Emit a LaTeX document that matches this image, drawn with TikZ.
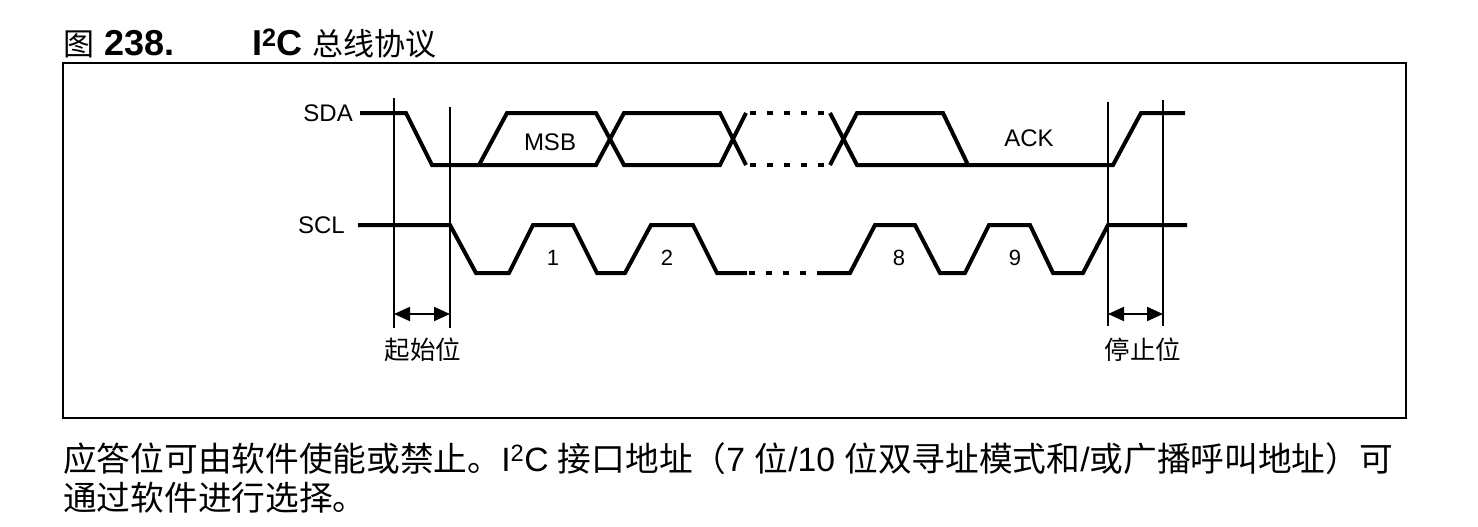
\documentclass[tikz,border=0pt]{standalone}
\usepackage{fontspec}
\setmainfont{Liberation Sans}
\newfontfamily\cjk{Noto Sans CJK SC}
\usetikzlibrary{arrows.meta}

\begin{document}
\begin{tikzpicture}[x=1pt, y=-1pt,
			wave/.style={line width=4pt},
			marker/.style={line width=1.3pt},
			sig/.style={font=\fontsize{24}{24}\selectfont, inner sep=0pt},
			bitno/.style={font=\fontsize{22}{22}\selectfont, inner sep=0pt},
			bitname/.style={font=\fontsize{25.5}{26}\selectfont\cjk, inner sep=0pt},
			every text node part/.style={align=center}]
			\useasboundingbox (0,0) rectangle (1478,527);
			
			\node[anchor=base west, inner sep=0pt, font=\fontsize{36}{36}\selectfont\bfseries](fignum) at (63,56) {{\cjk\mdseries\fontsize{31}{31}\selectfont 图} 238.};
			\node[anchor=base west, inner sep=0pt, font=\fontsize{36}{36}\selectfont](figtitle) at (252,56) {\textbf{I\textsuperscript{2}C} {\cjk\fontsize{31}{31}\selectfont 总线协议}};
			
			\draw[line width=2pt] (63,63) rectangle (1406,418);
			
			\node[sig, anchor=east](sda) at (353,113) {SDA};
			\node[sig, anchor=east](scl) at (345,225) {SCL};
			
			% SDA
			\draw[wave] (360,113) -- (406,113) -- (432,165) -- (596,165) -- (624,113) -- (720,113) -- (746,165);
			\draw[wave] (479,165) -- (507,113) -- (596,113) -- (624,165) -- (720,165) -- (746,113);
			\draw[wave, dash pattern=on 6pt off 11pt, dash phase=13pt] (746,113) -- (830,113);
			\draw[wave, dash pattern=on 6pt off 11pt, dash phase=13pt] (746,165) -- (830,165);
			\draw[wave] (830,113) -- (857,165) -- (1113,165) -- (1141,113) -- (1185,113);
			\draw[wave] (830,165) -- (857,113) -- (943,113) -- (968,165);
			
			\node[sig](msb) at (550,142) {MSB};
			\node[sig](ack) at (1029,138) {ACK};
			
			% SCL
			\draw[wave] (358,225) -- (450,225) -- (476,273) -- (509,273) -- (533,225) -- (573,225) -- (597,273) -- (625,273) -- (651,225) -- (693,225) -- (717,273) -- (747,273);
			\draw[wave, dash pattern=on 6pt off 11pt, dash phase=15pt] (747,273) -- (817,273);
			\draw[wave] (817,273) -- (850,273) -- (875,225) -- (915,225) -- (940,273) -- (965,273) -- (989,225) -- (1030,225) -- (1053,273) -- (1083,273) -- (1108,225) -- (1187,225);
			
			\node[bitno](clk1) at (553,258) {1};
			\node[bitno](clk2) at (667,258) {2};
			\node[bitno](clk8) at (899,258) {8};
			\node[bitno](clk9) at (1015,258) {9};
			
			% start and stop
			\draw[marker] (394,98) -- (394,328);
			\draw[marker] (450,107) -- (450,328);
			\draw[marker] (1108,102) -- (1108,326);
			\draw[marker] (1163,100) -- (1163,326);
			\coordinate (start1) at (394,314);
			\coordinate (start2) at (450,314);
			\coordinate (stop1) at (1108,314);
			\coordinate (stop2) at (1163,314);
			\draw[<->,>={Triangle[length=16pt,width=14pt]}, line width=2pt] (start1) -- (start2);
			\draw[<->,>={Triangle[length=16pt,width=14pt]}, line width=2pt] (stop1) -- (stop2);
			\node[bitname](startbit) at (423,350) {起始位};
			\node[bitname](stopbit) at (1143,350) {停止位};
			
			\node[anchor=base west, inner sep=0pt, font=\fontsize{33.7}{34}\selectfont](note1) at (63,471) {{\cjk 应答位可由软件使能或禁止。}I\textsuperscript{2}C {\cjk 接口地址（}7 {\cjk 位}/10 {\cjk 位双寻址模式和}/{\cjk 或广播呼叫地址）可}};
			\node[anchor=base west, inner sep=0pt, font=\fontsize{33.7}{34}\selectfont\cjk](note2) at (63,510) {通过软件进行选择。};
			\end{tikzpicture}
\end{document}
